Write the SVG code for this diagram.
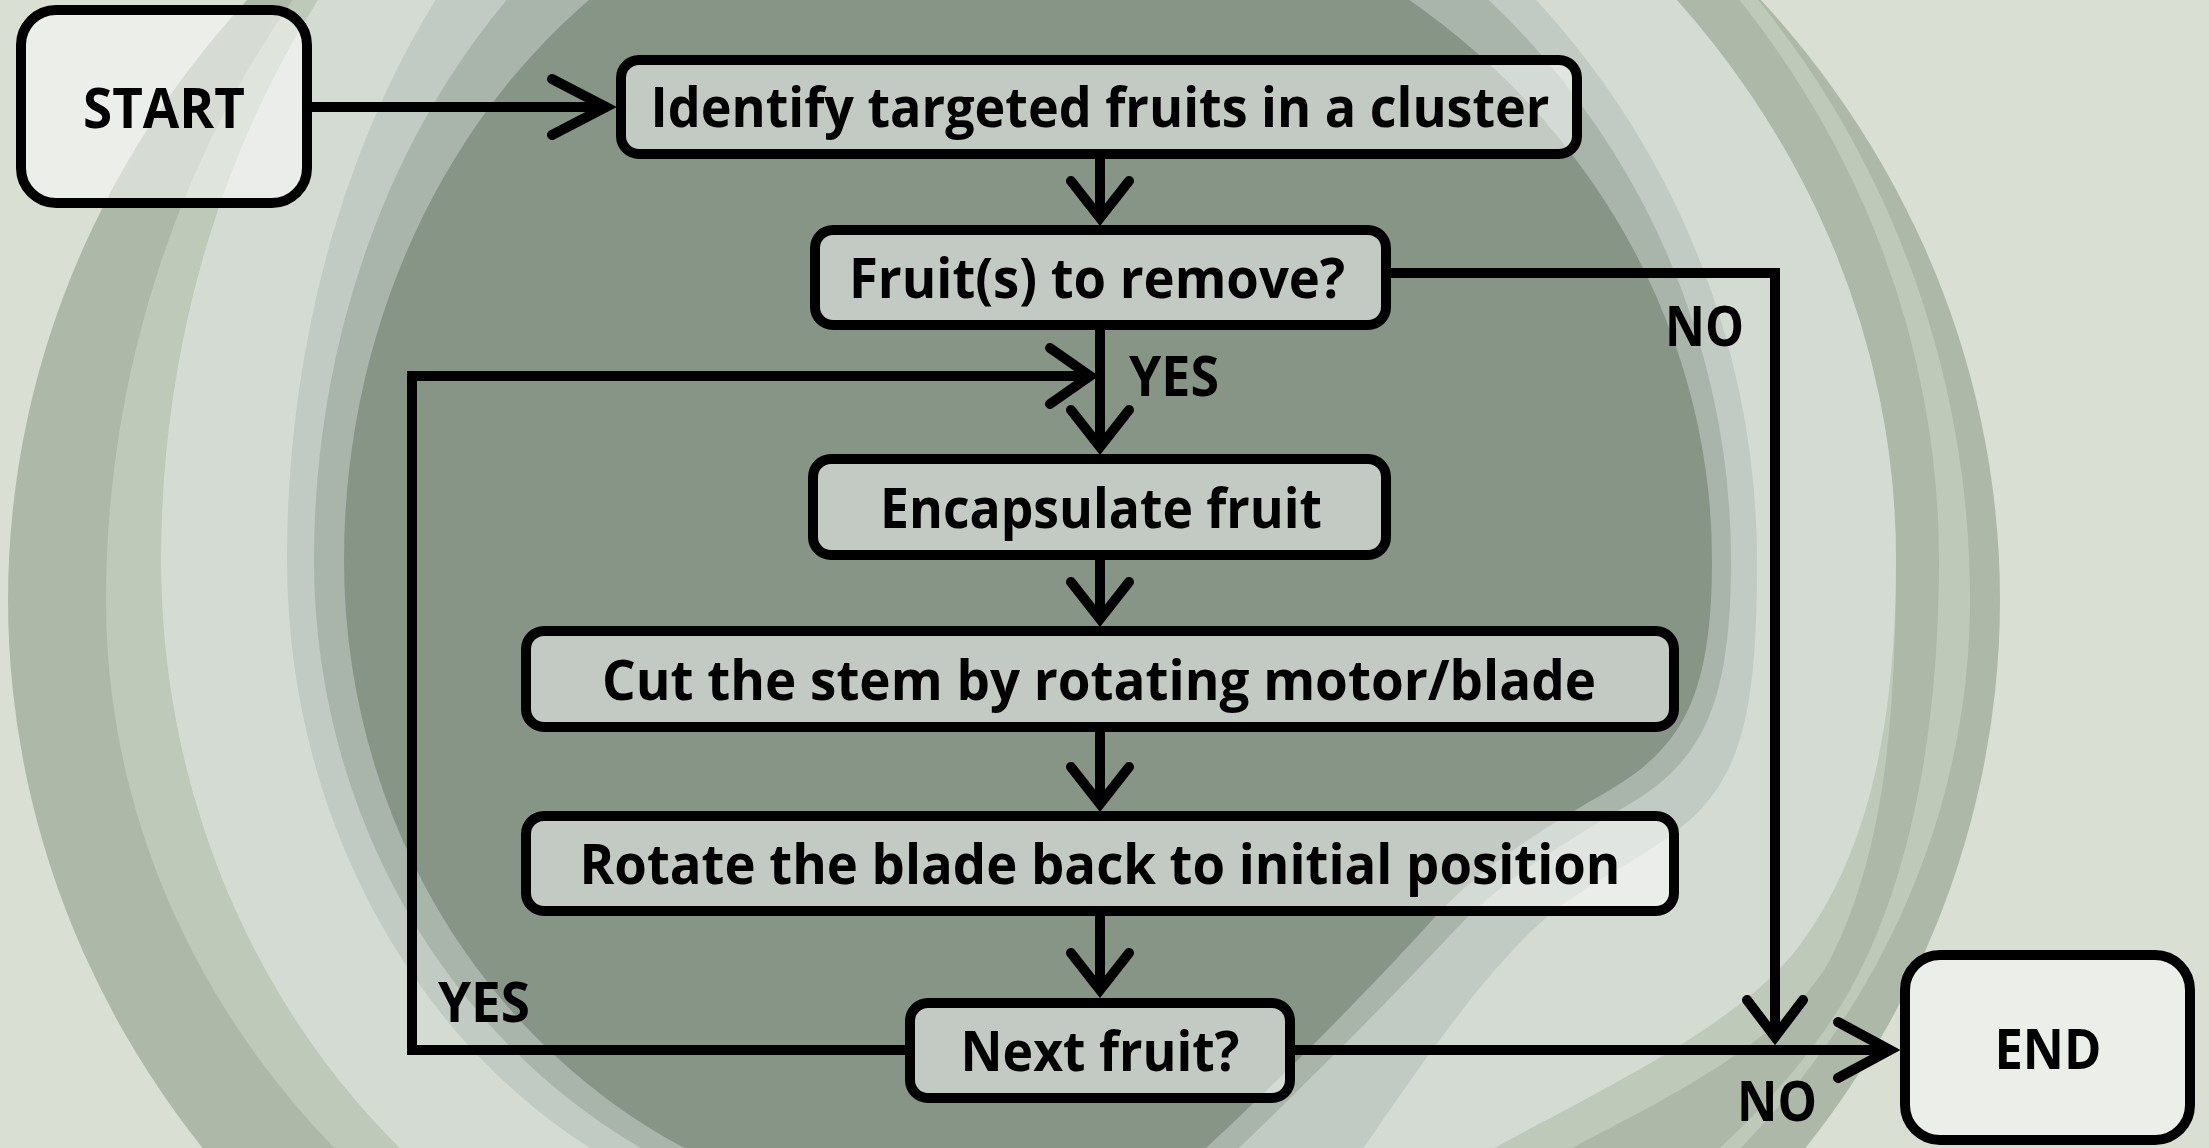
<svg xmlns="http://www.w3.org/2000/svg" width="2209" height="1148" viewBox="0 0 2209 1148">
<style>
.box{fill:#ffffff;fill-opacity:0.5;stroke:#000000;stroke-width:10}
.t{font-family:"Open Sans","Liberation Sans",sans-serif;font-weight:700;font-size:56px;fill:#000000;text-anchor:middle}
.lbl{font-family:"Open Sans","Liberation Sans",sans-serif;font-weight:700;font-size:56px;fill:#000000;text-anchor:start}
.ln{fill:none;stroke:#000000;stroke-width:10;stroke-linejoin:miter}
.ah{fill:none;stroke:#000000;stroke-width:10;stroke-linecap:round;stroke-linejoin:miter}
</style>
<g id="background">
<rect x="0" y="0" width="2209" height="1148" fill="#d9dfd2"/>
<ellipse cx="1004" cy="600" rx="996" ry="923" fill="#adb8a8"/>
<path fill="#bec9ba" d="M322,-40 A932,1000 0 0 0 106,600 A932,835 0 0 0 378,1190 L1697,1190 A932,835 0 0 0 1970,600 A932,945 0 0 0 1724,-40 Z"/>
<path fill="#adb8a8" d="M345,-40 A724,900 0 0 0 161,560 A724,792 0 0 0 446,1190 L1680,1190 L1720,1148 C1760,1110 1810,1060 1850,990 C1900,900 1939,760 1939,560 A1054,957 0 0 0 1706,-40 Z"/>
<path fill="#bec9ba" d="M345,-40 A724,900 0 0 0 161,560 A724,792 0 0 0 446,1190 L1500,1190 L1550,1160 C1640,1110 1780,1050 1830,960 C1880,860 1896,740 1896,560 A1011,900 0 0 0 1639,-40 Z"/>
<path fill="#d4dbd2" d="M345,-40 A724,900 0 0 0 161,560 A724,792 0 0 0 446,1190 L1420,1190 L1500,1145 C1600,1090 1740,1025 1800,945 C1870,850 1896,720 1896,560 A1011,900 0 0 0 1639,-40 Z"/>
<path fill="#c1cac3" d="M462,-40 A593,845 0 0 0 287,560 A593,674 0 0 0 669,1190 L1335,1190 C1410,1080 1480,975 1547,917 C1590,880 1640,862 1690,820 C1745,770 1757,700 1757,560 A877,845 0 0 0 1497,-40 Z"/>
<path fill="#a9b4aa" d="M543,-40 A628,777 0 0 0 314,560 A628,670 0 0 0 728,1190 L1195,1190 C1290,1100 1385,1005 1455,930 C1500,882 1560,845 1628,805 C1700,762 1731,710 1731,560 A789,777 0 0 0 1443,-40 Z"/>
<path fill="#869586" d="M641,-40 A612,700 0 0 0 344,560 A612,656 0 0 0 785,1190 L1160,1190 C1260,1100 1360,1000 1435,917 C1480,868 1540,830 1610,790 C1680,748 1712,700 1712,560 A756,700 0 0 0 1345,-40 Z"/>
</g>
<g id="connectors">
<path class="ln" d="M312,107 H606"/>
<path class="ah" d="M552,79 L606,107 L552,135"/>
<path class="ln" d="M1100,159 V218"/>
<path class="ah" d="M1071,181 L1100,218 L1129,181"/>
<path class="ln" d="M1100,330 V447"/>
<path class="ah" d="M1071,410 L1100,447 L1129,410"/>
<path class="ln" d="M905,1050 H412 V376 H1090"/>
<path class="ah" d="M1050,348 L1090,376 L1050,404"/>
<path class="ln" d="M1100,560 V619"/>
<path class="ah" d="M1071,582 L1100,619 L1129,582"/>
<path class="ln" d="M1100,732 V804"/>
<path class="ah" d="M1071,767 L1100,804 L1129,767"/>
<path class="ln" d="M1100,916 V990"/>
<path class="ah" d="M1071,953 L1100,990 L1129,953"/>
<path class="ln" d="M1295,1050 H1890"/>
<path class="ah" d="M1838,1022 L1890,1050 L1838,1078"/>
<path class="ln" d="M1391,273 H1775 V1037"/>
<path class="ah" d="M1747,1000 L1775,1037 L1803,1000"/>
<text class="lbl" x="1665" y="346" textLength="79" lengthAdjust="spacingAndGlyphs">NO</text>
<text class="lbl" x="1129" y="396" textLength="90" lengthAdjust="spacingAndGlyphs">YES</text>
<text class="lbl" x="438" y="1022" textLength="92" lengthAdjust="spacingAndGlyphs">YES</text>
<text class="lbl" x="1737" y="1121" textLength="80" lengthAdjust="spacingAndGlyphs">NO</text>
</g>
<g id="start">
<rect class="box" x="21" y="10" width="286" height="193" rx="35"/>
<text class="t" x="164" y="128" textLength="162" lengthAdjust="spacingAndGlyphs">START</text>
</g>
<g id="identify">
<rect class="box" x="621" y="60" width="956" height="94" rx="18"/>
<text class="t" x="1100" y="127" textLength="899" lengthAdjust="spacingAndGlyphs">Identify targeted fruits in a cluster</text>
</g>
<g id="fruits-to-remove">
<rect class="box" x="815" y="230" width="571" height="95" rx="18"/>
<text class="t" x="1097" y="298" textLength="496" lengthAdjust="spacingAndGlyphs">Fruit(s) to remove?</text>
</g>
<g id="encapsulate">
<rect class="box" x="813" y="459" width="573" height="96" rx="18"/>
<text class="t" x="1101" y="528" textLength="442" lengthAdjust="spacingAndGlyphs">Encapsulate fruit</text>
</g>
<g id="cut">
<rect class="box" x="526" y="631" width="1148" height="96" rx="18"/>
<text class="t" x="1099" y="700" textLength="994" lengthAdjust="spacingAndGlyphs">Cut the stem by rotating motor/blade</text>
</g>
<g id="rotate">
<rect class="box" x="526" y="816" width="1148" height="95" rx="18"/>
<text class="t" x="1100" y="884" textLength="1041" lengthAdjust="spacingAndGlyphs">Rotate the blade back to initial position</text>
</g>
<g id="next-fruit">
<rect class="box" x="910" y="1003" width="380" height="95" rx="18"/>
<text class="t" x="1100" y="1071" textLength="279" lengthAdjust="spacingAndGlyphs">Next fruit?</text>
</g>
<g id="end">
<rect class="box" x="1905" y="955" width="285" height="185" rx="35"/>
<text class="t" x="2048" y="1069" textLength="107" lengthAdjust="spacingAndGlyphs">END</text>
</g>
</svg>
